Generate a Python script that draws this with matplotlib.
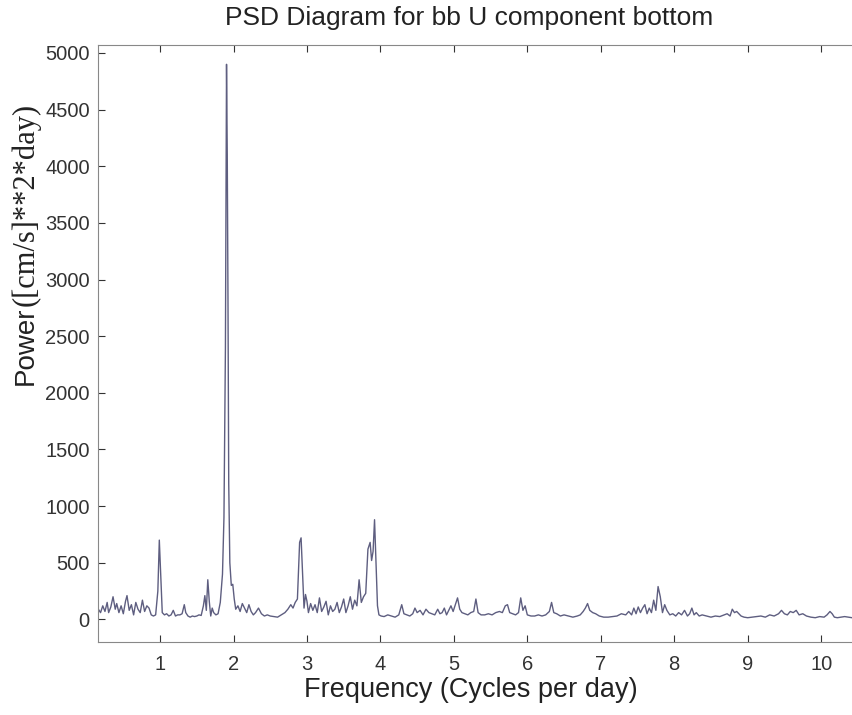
from matplotlib import pyplot as plt
import numpy as np

FREQ = [
0.16, 0.19, 0.22, 0.25, 0.28, 0.30, 0.33, 0.36, 0.39, 0.41, 0.44, 0.47, 0.50,
0.53, 0.55, 0.58, 0.61, 0.64, 0.67, 0.70, 0.73, 0.76, 0.79, 0.82, 0.85, 0.88,
0.91, 0.94, 0.97, 0.99, 1.01, 1.03, 1.06, 1.09, 1.12, 1.15, 1.18, 1.21, 1.24,
1.27, 1.30, 1.33, 1.35, 1.38, 1.41, 1.44, 1.47, 1.50, 1.53, 1.56, 1.59, 1.61,
1.63, 1.65, 1.67, 1.69, 1.71, 1.73, 1.76, 1.79, 1.82, 1.85, 1.87, 1.89, 1.905,
1.915, 1.925, 1.935, 1.95, 1.97, 1.99, 2.01, 2.03, 2.06, 2.09, 2.12, 2.15,
2.18, 2.21, 2.24, 2.27, 2.30, 2.34, 2.38, 2.42, 2.46, 2.50, 2.55, 2.60, 2.65,
2.70, 2.74, 2.78, 2.81, 2.84, 2.87, 2.90, 2.92, 2.94, 2.96, 2.98, 3.00, 3.02,
3.05, 3.08, 3.11, 3.14, 3.17, 3.20, 3.23, 3.26, 3.29, 3.32, 3.35, 3.38, 3.41,
3.44, 3.47, 3.50, 3.53, 3.56, 3.59, 3.62, 3.65, 3.68, 3.71, 3.74, 3.77, 3.80,
3.83, 3.86, 3.88, 3.90, 3.92, 3.94, 3.96, 3.98, 4.01, 4.05, 4.10, 4.15, 4.20,
4.25, 4.29, 4.32, 4.36, 4.40, 4.44, 4.47, 4.50, 4.54, 4.58, 4.62, 4.66, 4.70,
4.74, 4.78, 4.81, 4.84, 4.87, 4.90, 4.93, 4.96, 4.99, 5.02, 5.05, 5.08, 5.11,
5.15, 5.19, 5.23, 5.27, 5.30, 5.33, 5.37, 5.42, 5.47, 5.52, 5.57, 5.62, 5.66,
5.70, 5.73, 5.76, 5.80, 5.84, 5.88, 5.91, 5.94, 5.97, 6.00, 6.05, 6.10, 6.15,
6.20, 6.25, 6.30, 6.33, 6.36, 6.40, 6.45, 6.50, 6.56, 6.62, 6.68, 6.72, 6.76,
6.79, 6.82, 6.85, 6.89, 6.93, 6.98, 7.04, 7.10, 7.16, 7.22, 7.28, 7.34, 7.38,
7.42, 7.45, 7.48, 7.51, 7.54, 7.57, 7.60, 7.63, 7.66, 7.69, 7.72, 7.75, 7.78,
7.81, 7.84, 7.87, 7.90, 7.94, 7.98, 8.02, 8.06, 8.10, 8.14, 8.18, 8.21, 8.24,
8.27, 8.30, 8.34, 8.38, 8.44, 8.50, 8.56, 8.62, 8.68, 8.72, 8.76, 8.79, 8.82,
8.85, 8.88, 8.91, 8.95, 9.00, 9.06, 9.12, 9.18, 9.24, 9.30, 9.36, 9.42, 9.46,
9.50, 9.54, 9.58, 9.62, 9.66, 9.70, 9.75, 9.80, 9.86, 9.92, 9.98, 10.04, 10.08,
10.12, 10.15, 10.18, 10.22, 10.27, 10.32, 10.37, 10.42,
]

POWER = [
90, 60, 120, 70, 150, 60, 110, 200, 90, 140, 60, 120, 50,
160, 210, 80, 130, 40, 150, 90, 60, 170, 70, 120, 100, 40,
30, 40, 250, 700, 380, 60, 40, 50, 30, 40, 80, 30, 40,
40, 50, 130, 60, 30, 20, 30, 25, 30, 40, 35, 120, 210,
80, 350, 160, 30, 100, 60, 40, 50, 150, 400, 900, 2400, 4900,
4100, 2800, 1200, 500, 300, 310, 180, 90, 120, 70, 140, 100,
60, 130, 70, 40, 60, 100, 50, 30, 40, 30, 25, 20, 40,
60, 90, 130, 100, 150, 180, 680, 720, 420, 100, 220, 160, 60,
140, 80, 130, 60, 190, 70, 110, 160, 40, 120, 70, 90, 150,
60, 110, 180, 60, 120, 200, 90, 170, 120, 350, 150, 200, 230,
620, 680, 520, 600, 880, 500, 120, 40, 30, 25, 40, 30, 20,
40, 130, 50, 40, 30, 50, 100, 60, 80, 40, 90, 60, 50,
40, 90, 50, 60, 100, 40, 80, 120, 70, 130, 190, 90, 60,
50, 40, 60, 70, 180, 60, 40, 40, 50, 40, 60, 70, 60,
120, 130, 60, 50, 40, 60, 190, 80, 120, 40, 30, 30, 40,
30, 40, 70, 150, 60, 50, 30, 40, 30, 20, 30, 40, 70,
100, 140, 80, 60, 50, 30, 20, 20, 25, 30, 50, 40, 70,
40, 100, 50, 110, 60, 100, 130, 50, 100, 60, 170, 80, 290,
200, 60, 130, 80, 40, 50, 30, 60, 40, 80, 30, 50, 100,
40, 60, 30, 40, 30, 20, 30, 25, 40, 50, 30, 90, 60,
70, 50, 30, 20, 15, 20, 25, 30, 20, 40, 30, 50, 80,
50, 40, 70, 60, 80, 40, 50, 30, 20, 15, 25, 20, 40,
70, 50, 20, 15, 20, 25, 20, 15,
]

XTICKS = [1, 2, 3, 4, 5, 6, 7, 8, 9, 10]
YTICKS = [0, 500, 1000, 1500, 2000, 2500, 3000, 3500, 4000, 4500, 5000]

plt.rcParams["font.family"] = ["Liberation Sans", "DejaVu Sans"]

fig = plt.figure(figsize=(8.52, 7.15), dpi=100)
ax = fig.add_axes([0.115, 0.102, 0.885, 0.835])

ax.plot(FREQ, POWER, color="#5e5e80", linewidth=1.0)

ax.set_xlim(0.155, 10.42)
ax.set_ylim(-200, 5070)
ax.set_xticks(XTICKS)
ax.set_yticks(YTICKS)
ax.tick_params(direction="in", length=5, labelsize=14.5, colors="#333333",
               top=True, labeltop=False, pad=6)
ax.tick_params(axis="x", pad=9)
for s in ax.spines.values():
    s.set_color("#888888")
ax.spines["right"].set_visible(False)

fig.text(0.551, 0.975, "PSD Diagram for bb U component bottom", fontsize=19,
         ha="center", va="center", color="#222222")
fig.text(0.553, 0.035, "Frequency (Cycles per day)", fontsize=19.5,
         ha="center", va="center", color="#222222")

# y label: sans "Power" followed by serif units, reading upwards
t1 = fig.text(0.030, 0.462, "Power", rotation=90, fontsize=20, ha="center",
              va="bottom", color="#222222")
fig.canvas.draw()
bb = t1.get_window_extent()
top = bb.y1 / fig.bbox.height
fig.text(0.030, top, "([cm/s]**2*day)", rotation=90, fontsize=22,
         family="Liberation Serif", ha="center", va="bottom", color="#222222")

fig.savefig("out.png", dpi=100)
